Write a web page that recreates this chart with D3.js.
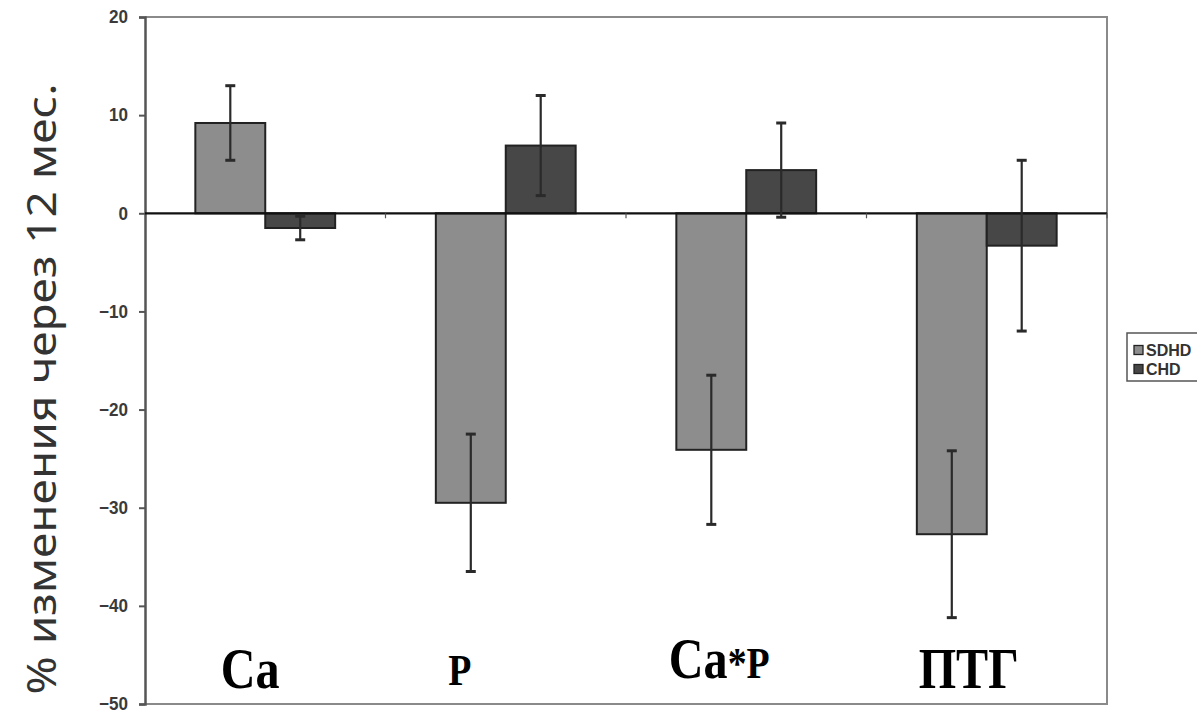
<!DOCTYPE html>
<html>
<head>
<meta charset="utf-8">
<script src="https://cdn.jsdelivr.net/npm/d3@7"></script>
<style>
  html, body { margin: 0; padding: 0; background: #fff; }
  svg { display: block; }
</style>
</head>
<body>
<svg id="chart" width="1197" height="718"></svg>
<script>
// Chart data
const categories = ["Ca", "P", "Ca*P", "ПТГ"];
const seriesNames = ["SDHD", "CHD"];
const sdhdValues = [9.2, -29.5, -24.1, -32.7];
const chdValues  = [-1.5, 6.9, 4.4, -3.3];
const sdhdErrors = [3.8, 7.0, 7.6, 8.5];
const chdErrors  = [1.2, 5.1, 4.8, 8.7];
const yTicks = [20, 10, 0, -10, -20, -30, -40, -50];
const yTitle = "% изменения через 12 мес.";

// Layout
const W = 1197, H = 718;
const plot = { left: 145, right: 1107, top: 17, bottom: 704 };
const colors = { SDHD: "#8d8d8d", CHD: "#474747" };
const labelShift = [-15, -46, -27, -18];   // horizontal nudges of category captions
const labelBase  = [688, 685, 678, 688];   // caption baselines

const svg = d3.select("#chart");

const x = d3.scaleBand().domain(categories).range([plot.left, plot.right]).padding(0);
const xs = d3.scaleBand().domain(seriesNames).range([0, x.bandwidth()])
  .paddingInner(0).paddingOuter(0.72);
const y = d3.scaleLinear().domain([-50, 20]).range([plot.bottom, plot.top]);

// plot-area frame (top, right, bottom)
svg.append("path")
  .attr("d", `M${plot.left},${plot.top}H${plot.right}V${plot.bottom}H${plot.left}`)
  .attr("fill", "none").attr("stroke", "#8a8a8a").attr("stroke-width", 2);

// y axis
const yAxis = svg.append("g")
  .attr("transform", `translate(${plot.left},0)`)
  .call(d3.axisLeft(y).tickValues(yTicks).tickSize(6).tickPadding(11).tickFormat(d3.format("d")));
yAxis.select(".domain").attr("stroke", "#555").attr("stroke-width", 2.5);
yAxis.selectAll(".tick line").attr("stroke", "#555").attr("stroke-width", 2);
yAxis.selectAll(".tick text")
  .attr("font-family", "'Liberation Sans', Arial, sans-serif")
  .attr("font-weight", "bold").attr("font-size", 18).attr("fill", "#3a3a3a")
  .each(function () {
    const t = d3.select(this);
    const xx = +t.attr("x");
    t.attr("x", null).attr("transform", `translate(${xx},0) scale(0.95,1)`);
  });

// rows of bar data built from the series arrays
const rows = categories.map((c, i) => [
  { cat: c, s: "SDHD", v: sdhdValues[i], e: sdhdErrors[i] },
  { cat: c, s: "CHD",  v: chdValues[i],  e: chdErrors[i] }
]).flat();

// bars
svg.append("g").selectAll("rect").data(rows).join("rect")
  .attr("x", d => x(d.cat) + xs(d.s))
  .attr("width", xs.bandwidth())
  .attr("y", d => y(Math.max(0, d.v)))
  .attr("height", d => Math.abs(y(d.v) - y(0)))
  .attr("fill", d => colors[d.s])
  .attr("stroke", "#222").attr("stroke-width", 2);

// zero line with category ticks
const zero = svg.append("g").attr("transform", `translate(0,${y(0)})`);
zero.append("line").attr("x1", plot.left).attr("x2", plot.right)
  .attr("stroke", "#111").attr("stroke-width", 2.2);
zero.selectAll("line.tk").data(categories.map(c => x(c) + x.bandwidth())).join("line")
  .attr("class", "tk").attr("x1", d => d).attr("x2", d => d).attr("y1", 0).attr("y2", 5)
  .attr("stroke", "#555").attr("stroke-width", 1.2);

// error bars
const eb = svg.append("g").attr("stroke", "#2a2a2a").attr("stroke-width", 2.2);
rows.forEach(d => {
  const cx = x(d.cat) + xs(d.s) + xs.bandwidth() / 2;
  const y1 = y(d.v + d.e), y2 = y(d.v - d.e);
  eb.append("line").attr("x1", cx).attr("x2", cx).attr("y1", y1).attr("y2", y2);
  eb.append("line").attr("x1", cx - 5).attr("x2", cx + 5).attr("y1", y1).attr("y2", y1).attr("stroke-width", 3);
  eb.append("line").attr("x1", cx - 5).attr("x2", cx + 5).attr("y1", y2).attr("y2", y2).attr("stroke-width", 3);
});

// category captions inside the plot
const capG = svg.append("g")
  .attr("font-family", "'Liberation Serif', 'Times New Roman', serif")
  .attr("font-weight", "bold").attr("fill", "#000").attr("text-anchor", "middle");
categories.forEach((c, i) => {
  const cx = x(c) + x.bandwidth() / 2 + labelShift[i];
  const t = capG.append("text")
    .attr("transform", `translate(${cx},${labelBase[i]}) scale(0.86,1)`);
  // Latin "P" and "*" are set smaller than the rest
  const parts = c.match(/(\*?P)|([^*P]+)/g);
  parts.forEach(p => {
    t.append("tspan").text(p).attr("font-size", /P/.test(p) ? 44 : 56);
  });
});

// y-axis title
svg.append("text")
  .attr("transform", `translate(56,389) rotate(-90) scale(1,0.88)`)
  .attr("text-anchor", "middle")
  .attr("font-family", "'Noto Sans', 'Open Sans', sans-serif")
  .attr("font-size", 46).attr("fill", "#333")
  .text(yTitle);

// legend
const lg = svg.append("g").attr("transform", "translate(1127,333)");
lg.append("rect").attr("width", 76).attr("height", 48)
  .attr("fill", "#fff").attr("stroke", "#555").attr("stroke-width", 1.5);
seriesNames.forEach((s, i) => {
  const row = lg.append("g").attr("transform", `translate(7,${17 + i * 19})`);
  row.append("rect").attr("x", 0).attr("y", -4.5).attr("width", 9).attr("height", 9)
    .attr("fill", colors[s]).attr("stroke", "#222").attr("stroke-width", 1.3);
  row.append("text").attr("x", 12).attr("y", 6)
    .attr("font-family", "'Liberation Sans', Arial, sans-serif")
    .attr("font-weight", "bold").attr("font-size", 16).attr("fill", "#333")
    .text(s);
});
</script>
</body>
</html>
